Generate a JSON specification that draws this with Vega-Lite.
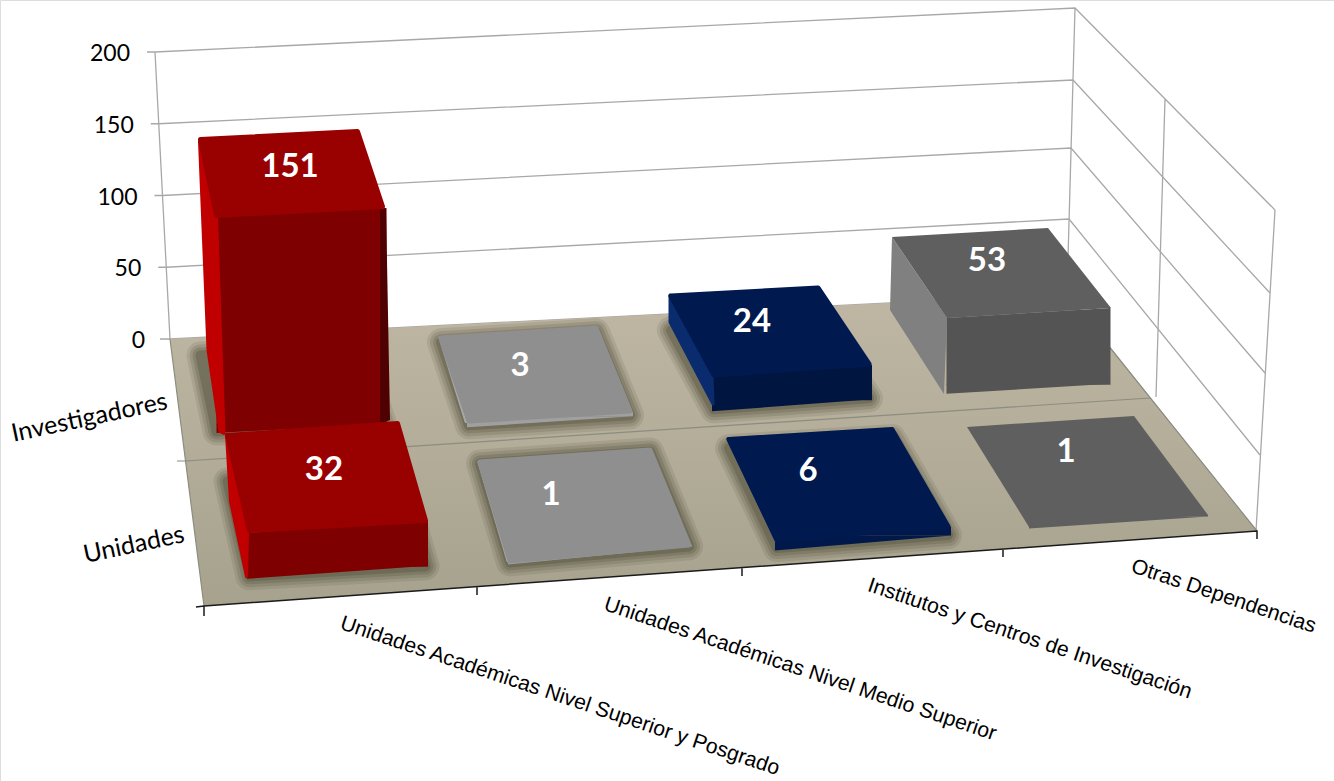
{"$schema":"https://vega.github.io/schema/vega-lite/v6.json","width":1334,"height":781,"autosize":"none","padding":0,"background":"white",
"params":[{"name":"orden","expr":"{'Unidades Académicas Nivel Superior y Posgrado':0,'Unidades Académicas Nivel Medio Superior':1,'Institutos y Centros de Investigación':2,'Otras Dependencias':3}"}],
"datasets":{"datos":[
{"categoria":"Unidades Académicas Nivel Superior y Posgrado","serie":"Investigadores","valor":151},
{"categoria":"Unidades Académicas Nivel Medio Superior","serie":"Investigadores","valor":3},
{"categoria":"Institutos y Centros de Investigación","serie":"Investigadores","valor":24},
{"categoria":"Otras Dependencias","serie":"Investigadores","valor":53},
{"categoria":"Unidades Académicas Nivel Superior y Posgrado","serie":"Unidades","valor":32},
{"categoria":"Unidades Académicas Nivel Medio Superior","serie":"Unidades","valor":1},
{"categoria":"Institutos y Centros de Investigación","serie":"Unidades","valor":6},
{"categoria":"Otras Dependencias","serie":"Unidades","valor":1}],
"escala":[{"valor":0},{"valor":50},{"valor":100},{"valor":150},{"valor":200}]},
"data":{"name":"datos"},
"resolve":{"scale":{"x":"independent","y":"independent","shape":"independent","fill":"independent","stroke":"independent"}},
"layer":[
{"data":{"name":"escala"},
 "encoding":{"x":{"field":"valor","type":"quantitative","axis":null,"scale":{"domain":[0,200],"range":[170,155]}},"y":{"field":"valor","type":"quantitative","axis":null,"scale":{"domain":[0,200],"range":[339,52]}}},
 "resolve":{"scale":{"shape":"independent"}},
 "layer":[
 {"mark":{"type":"point","filled":false,"size":4,"stroke":"#A8A8A8","strokeWidth":1.3,"opacity":1},
  "encoding":{"shape":{"field":"valor","type":"nominal","sort":null,"legend":null,"scale":{"range":["M-10 0L0 0L897 -45L1086 192","M-8 0L0 0L902.75 -48.25L1093.75 187.75","M-8 0L0 0L908.5 -47.5L1102.5 177.5","M-8 0L0 0L914.25 -43.75L1111.25 169.25","M-8 0L0 0L920 -44L1120 158M0 0L15 287M920 -44L912 242M1120 158L1101 479M1010 47L1001 345"]}}}},
 {"transform":[{"filter":"datum.valor==0"}],"mark":{"type":"point","filled":true,"size":4,"shape":"M0 0L897 -45L1087 192L34 267Z","opacity":1,"fill":{"gradient":"linear","x1":0,"y1":0,"x2":0,"y2":1,"stops":[{"offset":0,"color":"#BFB7A3"},{"offset":1,"color":"#A6A28E"}]}}},
 {"transform":[{"filter":"datum.valor==0"}],"mark":{"type":"point","filled":false,"size":4,"stroke":"#8C8C80","strokeWidth":1.2,"opacity":1,"shape":"M7 122L15.5 122L980 59M0 0L34 267M897 -45L1087 192"}},
 {"transform":[{"filter":"datum.valor==0"}],"mark":{"type":"point","filled":false,"size":4,"stroke":"#1A1A1A","strokeWidth":1.5,"opacity":1,"shape":"M26 268L34 267L1087 192L1087 200M34 267L34 277M307 247.6L307 256M572 228.7L572 237M833 210L833 218"}},
 {"mark":{"type":"text","align":"right","baseline":"middle","dx":-25,"dy":2,"font":"Lato","fontSize":23,"color":"#000000"},"encoding":{"text":{"field":"valor","type":"quantitative"}}}
 ]},

{"transform":[{"filter":"datum.serie=='Investigadores'"}],
 "encoding":{"x":{"field":"categoria","type":"nominal","sort":null,"axis":null,"scale":{"type":"band","range":[182.25,1152.25],"paddingInner":0.31,"paddingOuter":0.155}},"y":{"field":"valor","type":"quantitative","axis":null,"scale":{"domain":[0,200],"range":[400,114]}}},
 "resolve":{"scale":{"shape":"independent","fill":"independent","stroke":"independent"}},
 "layer":[
 {"transform":[{"filter":"datum.categoria!='Otras Dependencias'"}],"mark":{"type":"point","filled":true,"size":4,"opacity":0.12,"fill":"#45432F","stroke":"#45432F","strokeWidth":28,"strokeJoin":"round","xOffset":{"expr":"[-2,4,3.5,-2.5][orden[datum.categoria]]"},"yOffset":{"expr":"[28.4,21.8,5.3,-11.2][orden[datum.categoria]]"}},
  "encoding":{"y":{"datum":0,"type":"quantitative"},"shape":{"field":"categoria","type":"nominal","sort":null,"legend":null,"scale":{"range":["M-101 -73L56 -81L81 -6L-85 3Z","M-109 -79.5L46 -89.5L80 -6.5L-81 3.5Z","M-121 -75L26 -83L77 -7L-78 4Z"]}}}},
 {"transform":[{"filter":"datum.categoria!='Otras Dependencias'"}],"mark":{"type":"point","filled":true,"size":4,"opacity":0.16,"fill":"#45432F","stroke":"#45432F","strokeWidth":22,"strokeJoin":"round","xOffset":{"expr":"[-2,4,3.5,-2.5][orden[datum.categoria]]"},"yOffset":{"expr":"[28.4,21.8,5.3,-11.2][orden[datum.categoria]]"}},
  "encoding":{"y":{"datum":0,"type":"quantitative"},"shape":{"field":"categoria","type":"nominal","sort":null,"legend":null,"scale":{"range":["M-101 -73L56 -81L81 -6L-85 3Z","M-109 -79.5L46 -89.5L80 -6.5L-81 3.5Z","M-121 -75L26 -83L77 -7L-78 4Z"]}}}},
 {"transform":[{"filter":"datum.categoria!='Otras Dependencias'"}],"mark":{"type":"point","filled":true,"size":4,"opacity":0.2,"fill":"#45432F","stroke":"#45432F","strokeWidth":16,"strokeJoin":"round","xOffset":{"expr":"[-2,4,3.5,-2.5][orden[datum.categoria]]"},"yOffset":{"expr":"[28.4,21.8,5.3,-11.2][orden[datum.categoria]]"}},
  "encoding":{"y":{"datum":0,"type":"quantitative"},"shape":{"field":"categoria","type":"nominal","sort":null,"legend":null,"scale":{"range":["M-101 -73L56 -81L81 -6L-85 3Z","M-109 -79.5L46 -89.5L80 -6.5L-81 3.5Z","M-121 -75L26 -83L77 -7L-78 4Z"]}}}},
 {"transform":[{"filter":"datum.categoria!='Otras Dependencias'"}],"mark":{"type":"point","filled":true,"size":4,"opacity":0.28,"fill":"#45432F","stroke":"#45432F","strokeWidth":10,"strokeJoin":"round","xOffset":{"expr":"[-2,4,3.5,-2.5][orden[datum.categoria]]"},"yOffset":{"expr":"[28.4,21.8,5.3,-11.2][orden[datum.categoria]]"}},
  "encoding":{"y":{"datum":0,"type":"quantitative"},"shape":{"field":"categoria","type":"nominal","sort":null,"legend":null,"scale":{"range":["M-101 -73L56 -81L81 -6L-85 3Z","M-109 -79.5L46 -89.5L80 -6.5L-81 3.5Z","M-121 -75L26 -83L77 -7L-78 4Z"]}}}},
 {"mark":{"type":"rect","width":{"expr":"[170,166,160,164][orden[datum.categoria]]"},"xOffset":{"expr":"[-2,4,3.5,-2.5][orden[datum.categoria]]"},"yOffset":{"expr":"[32.9,16.3,11.3,-6.2][orden[datum.categoria]]"},"y2Offset":{"expr":"[24.9,16.3,0.3,-15.2][orden[datum.categoria]]"}},
  "encoding":{"y2":{"datum":0},"fill":{"field":"categoria","type":"nominal","sort":null,"legend":null,"scale":{"range":["#7F0000","#A0A0A0","#001640","#545454"]}}}},
 {"mark":{"type":"point","filled":true,"size":4,"opacity":1,"xOffset":{"expr":"[-2,4,3.5,-2.5][orden[datum.categoria]]"},"yOffset":{"expr":"[28.4,21.8,5.3,-11.2][orden[datum.categoria]]"}},
  "encoding":{"y":{"datum":0,"type":"quantitative"},"shape":{"field":"categoria","type":"nominal","sort":null,"legend":null,"scale":{"range":["M-85 -4.5L85 -4.5L-85 4.5Z","M-83 -5.5L83 -5.5L-83 5.5Z","M-80 -6L80 -6L-80 6Z","M-82 -5L82 -5L-82 5Z"]}},"fill":{"field":"categoria","type":"nominal","sort":null,"legend":null,"scale":{"range":["#7F0000","#A0A0A0","#001640","#545454"]}}}},
 {"transform":[{"filter":"datum.valor>10"}],"mark":{"type":"point","filled":true,"size":4,"opacity":1,"xOffset":{"expr":"[-2,4,3.5,-2.5][orden[datum.categoria]]"},"yOffset":{"expr":"[28.4,21.8,5.3,-11.2][orden[datum.categoria]]"}},
  "encoding":{"shape":{"field":"categoria","type":"nominal","sort":null,"legend":null,"scale":{"range":["M-85 4.5L85 -4.5L85 4.5Z","M-80 6L80 -6L80 6Z","M-82 5L82 -5L82 5Z"]}},"fill":{"field":"categoria","type":"nominal","sort":null,"legend":null,"scale":{"range":["#7F0000","#001640","#545454"]}}}},
 {"transform":[{"filter":"datum.categoria=='Unidades Académicas Nivel Superior y Posgrado'"}],"mark":{"type":"point","filled":true,"size":4,"opacity":1,"fill":"#4F0000","shape":"M78.5 -2.5L84.5 -4.5L88.5 207.5L78.5 211.5Z","xOffset":-2,"yOffset":28.4}},
 {"mark":{"type":"point","filled":true,"size":4,"opacity":1,"strokeWidth":{"expr":"datum.categoria=='Otras Dependencias'?0:3"},"strokeJoin":"round","xOffset":{"expr":"[-2,4,3.5,-2.5][orden[datum.categoria]]"},"yOffset":{"expr":"[28.4,21.8,5.3,-11.2][orden[datum.categoria]]"}},
  "encoding":{"shape":{"field":"categoria","type":"nominal","sort":null,"legend":null,"scale":{"range":["M-102 -71L-85 4.5L-77.5 221L-81.5 219L-93.5 137.5Z","M-110 -80L-84 4L-81 4L-107 -80Z","M-122 -76L-80 6L-79 33L-122 -49Z","M-136.5 -76L-81.5 5L-84.5 81L-138.5 -3Z"]}},"fill":{"field":"categoria","type":"nominal","sort":null,"legend":null,"scale":{"range":["#C00000","#A8A8A8","#0A2C6E","#808080"]}},"stroke":{"field":"categoria","type":"nominal","sort":null,"legend":null,"scale":{"range":["#C00000","#A8A8A8","#0A2C6E","#808080"]}}}},
 {"mark":{"type":"point","filled":true,"size":4,"opacity":1,"strokeWidth":{"expr":"datum.categoria=='Otras Dependencias'?0:5"},"strokeJoin":"round","xOffset":{"expr":"[-2,4,3.5,-2.5][orden[datum.categoria]]"},"yOffset":{"expr":"[28.4,21.8,5.3,-11.2][orden[datum.categoria]]"}},
  "encoding":{"shape":{"field":"categoria","type":"nominal","sort":null,"legend":null,"scale":{"range":["M-101 -73L56 -81L81 -6L-85 3Z","M-109 -79.5L46 -89.5L80 -6.5L-81 3.5Z","M-121 -75L26 -83L77 -7L-78 4Z","M-136.5 -76L19.5 -85L82.5 -5L-81.5 5Z"]}},"fill":{"field":"categoria","type":"nominal","sort":null,"legend":null,"scale":{"range":["#990000","#8F8F8F","#001A50","#5F5F5F"]}},"stroke":{"field":"categoria","type":"nominal","sort":null,"legend":null,"scale":{"range":["#990000","#8F8F8F","#001A50","#5F5F5F"]}}}},
 {"mark":{"type":"text","font":"Lato","fontWeight":"bold","fontSize":33,"color":"#FFFFFF","baseline":"middle","xOffset":{"expr":"[-13.5,-26,-36.5,-44][orden[datum.categoria]]"},"yOffset":{"expr":"[-17.1,-29.7,-43.7,-63.2][orden[datum.categoria]]"}},"encoding":{"text":{"field":"valor","type":"quantitative"}}}
 ]},

{"transform":[{"filter":"datum.serie=='Unidades'"}],
 "encoding":{"x":{"field":"categoria","type":"nominal","sort":null,"axis":null,"scale":{"type":"band","range":[208,1248],"paddingInner":0.31,"paddingOuter":0.155}},"y":{"field":"valor","type":"quantitative","axis":null,"scale":{"domain":[0,200],"range":[560,274]}}},
 "resolve":{"scale":{"shape":"independent","fill":"independent","stroke":"independent"}},
 "layer":[
 {"transform":[{"filter":"datum.categoria!='Otras Dependencias'"}],"mark":{"type":"point","filled":true,"size":4,"opacity":0.12,"fill":"#45432F","stroke":"#45432F","strokeWidth":28,"strokeJoin":"round","xOffset":{"expr":"[-0.5,2,5,0.5][orden[datum.categoria]]"},"yOffset":{"expr":"[12.3,-4.6,-16.9,-37.6][orden[datum.categoria]]"}},
  "encoding":{"y":{"datum":0,"type":"quantitative"},"shape":{"field":"categoria","type":"nominal","sort":null,"legend":null,"scale":{"range":["M-110 -91L60 -103L88 -6L-88 4Z","M-120 -92L50 -104L89 -9L-90 7Z","M-134 -95L29 -105L85 -8L-86 5Z"]}}}},
 {"transform":[{"filter":"datum.categoria!='Otras Dependencias'"}],"mark":{"type":"point","filled":true,"size":4,"opacity":0.16,"fill":"#45432F","stroke":"#45432F","strokeWidth":22,"strokeJoin":"round","xOffset":{"expr":"[-0.5,2,5,0.5][orden[datum.categoria]]"},"yOffset":{"expr":"[12.3,-4.6,-16.9,-37.6][orden[datum.categoria]]"}},
  "encoding":{"y":{"datum":0,"type":"quantitative"},"shape":{"field":"categoria","type":"nominal","sort":null,"legend":null,"scale":{"range":["M-110 -91L60 -103L88 -6L-88 4Z","M-120 -92L50 -104L89 -9L-90 7Z","M-134 -95L29 -105L85 -8L-86 5Z"]}}}},
 {"transform":[{"filter":"datum.categoria!='Otras Dependencias'"}],"mark":{"type":"point","filled":true,"size":4,"opacity":0.2,"fill":"#45432F","stroke":"#45432F","strokeWidth":16,"strokeJoin":"round","xOffset":{"expr":"[-0.5,2,5,0.5][orden[datum.categoria]]"},"yOffset":{"expr":"[12.3,-4.6,-16.9,-37.6][orden[datum.categoria]]"}},
  "encoding":{"y":{"datum":0,"type":"quantitative"},"shape":{"field":"categoria","type":"nominal","sort":null,"legend":null,"scale":{"range":["M-110 -91L60 -103L88 -6L-88 4Z","M-120 -92L50 -104L89 -9L-90 7Z","M-134 -95L29 -105L85 -8L-86 5Z"]}}}},
 {"transform":[{"filter":"datum.categoria!='Otras Dependencias'"}],"mark":{"type":"point","filled":true,"size":4,"opacity":0.28,"fill":"#45432F","stroke":"#45432F","strokeWidth":10,"strokeJoin":"round","xOffset":{"expr":"[-0.5,2,5,0.5][orden[datum.categoria]]"},"yOffset":{"expr":"[12.3,-4.6,-16.9,-37.6][orden[datum.categoria]]"}},
  "encoding":{"y":{"datum":0,"type":"quantitative"},"shape":{"field":"categoria","type":"nominal","sort":null,"legend":null,"scale":{"range":["M-110 -91L60 -103L88 -6L-88 4Z","M-120 -92L50 -104L89 -9L-90 7Z","M-134 -95L29 -105L85 -8L-86 5Z"]}}}},
 {"mark":{"type":"rect","width":{"expr":"[181,184,176,179][orden[datum.categoria]]"},"xOffset":{"expr":"[-0.5,2,5,0.5][orden[datum.categoria]]"},"yOffset":{"expr":"[18.8,-13.6,-24.4,-43.6][orden[datum.categoria]]"},"y2Offset":{"expr":"[6.8,-13.6,-24.4,-43.6][orden[datum.categoria]]"}},
  "encoding":{"y2":{"datum":0},"fill":{"field":"categoria","type":"nominal","sort":null,"legend":null,"scale":{"range":["#7F0000","#A0A0A0","#00184A","#5F5F5F"]}}}},
 {"mark":{"type":"point","filled":true,"size":4,"opacity":1,"xOffset":{"expr":"[-0.5,2,5,0.5][orden[datum.categoria]]"},"yOffset":{"expr":"[12.3,-4.6,-16.9,-37.6][orden[datum.categoria]]"}},
  "encoding":{"y":{"datum":0,"type":"quantitative"},"shape":{"field":"categoria","type":"nominal","sort":null,"legend":null,"scale":{"range":["M-90.5 -6.5L90.5 -6.5L-90.5 6.5Z","M-92 -9L92 -9L-92 9Z","M-88 -7.5L88 -7.5L-88 7.5Z","M-89.5 -6L89.5 -6L-89.5 6Z"]}},"fill":{"field":"categoria","type":"nominal","sort":null,"legend":null,"scale":{"range":["#7F0000","#A0A0A0","#00184A","#5F5F5F"]}}}},
 {"transform":[{"filter":"datum.valor>10"}],"mark":{"type":"point","filled":true,"size":4,"opacity":1,"fill":"#7F0000","shape":"M-90.5 6.5L90.5 -6.5L90.5 6.5Z","xOffset":-0.5,"yOffset":12.3}},
 {"mark":{"type":"point","filled":true,"size":4,"opacity":1,"strokeWidth":{"expr":"datum.categoria=='Otras Dependencias'?0:3"},"strokeJoin":"round","xOffset":{"expr":"[-0.5,2,5,0.5][orden[datum.categoria]]"},"yOffset":{"expr":"[12.3,-4.6,-16.9,-37.6][orden[datum.categoria]]"}},
  "encoding":{"shape":{"field":"categoria","type":"nominal","sort":null,"legend":null,"scale":{"range":["M-111 -92L-90 6.5L-91 50L-107 -25Z","M-121 -92L-92 7L-89 7L-118 -92Z","M-135 -96L-87 6L-85 6L-132 -96Z","M0 0Z"]}},"fill":{"field":"categoria","type":"nominal","sort":null,"legend":null,"scale":{"range":["#C00000","#A8A8A8","#0A2C6E","#5F5F5F"]}},"stroke":{"field":"categoria","type":"nominal","sort":null,"legend":null,"scale":{"range":["#C00000","#A8A8A8","#0A2C6E","#5F5F5F"]}}}},
 {"mark":{"type":"point","filled":true,"size":4,"opacity":1,"strokeWidth":{"expr":"datum.categoria=='Otras Dependencias'?0:5"},"strokeJoin":"round","xOffset":{"expr":"[-0.5,2,5,0.5][orden[datum.categoria]]"},"yOffset":{"expr":"[12.3,-4.6,-16.9,-37.6][orden[datum.categoria]]"}},
  "encoding":{"shape":{"field":"categoria","type":"nominal","sort":null,"legend":null,"scale":{"range":["M-110 -91L60 -103L88 -6L-88 4Z","M-120 -92L50 -104L89 -9L-90 7Z","M-134 -95L29 -105L85 -8L-86 5Z","M-151.5 -94L15.5 -105L89.5 -6L-89.5 6Z"]}},"fill":{"field":"categoria","type":"nominal","sort":null,"legend":null,"scale":{"range":["#990000","#8F8F8F","#001A50","#5F5F5F"]}},"stroke":{"field":"categoria","type":"nominal","sort":null,"legend":null,"scale":{"range":["#990000","#8F8F8F","#001A50","#5F5F5F"]}}}},
 {"mark":{"type":"text","font":"Lato","fontWeight":"bold","fontSize":33,"color":"#FFFFFF","baseline":"middle","xOffset":{"expr":"[-14,-47,-50,-52][orden[datum.categoria]]"},"yOffset":{"expr":"[-44.2,-63.6,-80.4,-106.6][orden[datum.categoria]]"}},"encoding":{"text":{"field":"valor","type":"quantitative"}}}
 ]},

{"transform":[{"filter":"datum.serie=='Unidades'"}],
 "mark":{"type":"text","font":"Liberation Sans","fontSize":21.2,"angle":18.5,"align":"left","baseline":"middle","color":"#000000"},
 "encoding":{"x":{"field":"categoria","type":"nominal","sort":null,"axis":null,"scale":{"type":"point","padding":0,"range":[341,1132]}},"y":{"field":"categoria","type":"nominal","sort":null,"axis":null,"scale":{"type":"point","padding":0,"range":[623,566]}},"text":{"field":"categoria","type":"nominal"}}},
{"transform":[{"filter":"datum.categoria=='Otras Dependencias'"}],
 "mark":{"type":"text","font":"Lato","fontSize":25,"angle":-12,"align":"right","baseline":"middle","color":"#000000"},
 "encoding":{"x":{"field":"serie","type":"nominal","sort":null,"axis":null,"scale":{"type":"point","padding":0,"range":[167,184]}},"y":{"field":"serie","type":"nominal","sort":null,"axis":null,"scale":{"type":"point","padding":0,"range":[401,534]}},"text":{"field":"serie","type":"nominal"}}}
]}
